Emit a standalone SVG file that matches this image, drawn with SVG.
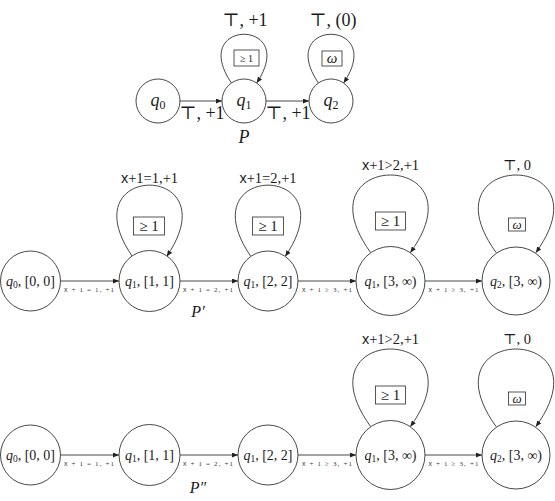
<svg xmlns="http://www.w3.org/2000/svg" width="555" height="501" viewBox="0 0 555 501">
<style>
  text { font-family: "Liberation Serif", "DejaVu Serif", serif; fill: #1a1a1a; text-anchor: middle; }
  .sf { font-family: "Liberation Sans", "DejaVu Sans", sans-serif; }
  .it { font-style: italic; }
  .node { fill: #fff; stroke: #333; stroke-width: 0.9; }
  .edge { fill: none; stroke: #333; stroke-width: 0.9; marker-end: url(#arr); }
  .box { fill: #fff; stroke: #444; stroke-width: 0.9; }
  .big { font-size: 18px; }
  .mid { font-size: 14px; }
  .lbl { font-size: 14.5px; }
  .tiny { font-size: 7px; fill: #3a3a3a; }
</style>
<defs>
  <marker id="arr" viewBox="0 0 6 5" refX="6" refY="2.5" markerWidth="6" markerHeight="5" markerUnits="userSpaceOnUse" orient="auto">
    <path d="M0,0 L6,2.5 L0,5 z" fill="#222"/>
  </marker>
</defs>

<!-- connectors -->
<g id="connectors">
  <!-- top: P -->
  <g id="e-p-q0-q1">
    <line class="edge" x1="180" y1="101" x2="222" y2="101"/>
    <text class="big" x="202" y="119">⊤, +1</text>
  </g>
  <g id="e-p-q1-q2">
    <line class="edge" x1="266" y1="101" x2="309" y2="101"/>
    <text class="big" x="288" y="119">⊤, +1</text>
  </g>
  <g id="e-p-q1-loop">
    <path class="edge" d="M231.4,83 C187.4,18 300.6,18 256.6,83"/>
    <text class="big" x="245" y="26">⊤, +1</text>
    <rect class="box" x="234" y="50" width="25" height="16"/>
    <text x="246.5" y="61.5" font-size="10">≥ 1</text>
  </g>
  <g id="e-p-q2-loop">
    <path class="edge" d="M318.4,83 C274.4,18 387.6,18 343.6,83"/>
    <text class="big" x="333" y="26">⊤, (0)</text>
    <rect class="box" x="322" y="51" width="20" height="15"/>
    <text class="it" x="332" y="62.5" font-size="15">ω</text>
  </g>

  <!-- middle: P' -->
  <g id="e-p1-a0-a1">
    <line class="edge" x1="61" y1="281" x2="119" y2="281"/>
    <text class="tiny" x="89" y="291.5" textLength="50" lengthAdjust="spacing"><tspan class="sf">x</tspan> + 1 = 1, +1</text>
  </g>
  <g id="e-p1-a1-a2">
    <line class="edge" x1="180" y1="281" x2="238" y2="281"/>
    <text class="tiny" x="208" y="291.5" textLength="50" lengthAdjust="spacing"><tspan class="sf">x</tspan> + 1 = 2, +1</text>
  </g>
  <g id="e-p1-a2-a3">
    <line class="edge" x1="298" y1="281" x2="356" y2="281"/>
    <text class="tiny" x="327" y="291.5" textLength="50" lengthAdjust="spacing"><tspan class="sf">x</tspan> + 1 ≥ 3, +1</text>
  </g>
  <g id="e-p1-a3-a4">
    <line class="edge" x1="425" y1="281" x2="482" y2="281"/>
    <text class="tiny" x="453.5" y="291.5" textLength="50" lengthAdjust="spacing"><tspan class="sf">x</tspan> + 1 ≥ 3, +1</text>
  </g>
  <g id="e-p1-a1-loop">
    <path class="edge" d="M132.3,256.4 C67.3,161.4 231.7,161.4 166.7,256.4"/>
    <text class="lbl" x="149.5" y="183"><tspan class="sf">x</tspan>+1=1,+1</text>
    <rect class="box" x="133.5" y="217" width="31" height="18"/>
    <text x="149" y="231" font-size="15">≥ 1</text>
  </g>
  <g id="e-p1-a2-loop">
    <path class="edge" d="M250.8,256.4 C185.8,161.4 350.2,161.4 285.2,256.4"/>
    <text class="lbl" x="268" y="183"><tspan class="sf">x</tspan>+1=2,+1</text>
    <rect class="box" x="252.5" y="217" width="31" height="18"/>
    <text x="268" y="231" font-size="15">≥ 1</text>
  </g>
  <g id="e-p1-a3-loop">
    <path class="edge" d="M370.7,252.7 C295.7,149.1 485.3,149.1 410.3,252.7"/>
    <text class="lbl" x="390.5" y="170"><tspan class="sf">x</tspan>+1&gt;2,+1</text>
    <rect class="box" x="375.5" y="212" width="30" height="18"/>
    <text x="390.5" y="226" font-size="15">≥ 1</text>
  </g>
  <g id="e-p1-a4-loop">
    <path class="edge" d="M496.2,252.7 C421.2,149.1 610.8,149.1 535.8,252.7"/>
    <text class="lbl" x="517" y="170">⊤, 0</text>
    <rect class="box" x="508.5" y="218" width="17" height="13"/>
    <text class="it" x="517" y="228.5" font-size="13">ω</text>
  </g>

  <!-- bottom: P'' -->
  <g id="e-p2-b0-b1">
    <line class="edge" x1="61" y1="455" x2="119" y2="455"/>
    <text class="tiny" x="89" y="465.5" textLength="50" lengthAdjust="spacing"><tspan class="sf">x</tspan> + 1 = 1, +1</text>
  </g>
  <g id="e-p2-b1-b2">
    <line class="edge" x1="180" y1="455" x2="238" y2="455"/>
    <text class="tiny" x="208" y="465.5" textLength="50" lengthAdjust="spacing"><tspan class="sf">x</tspan> + 1 = 2, +1</text>
  </g>
  <g id="e-p2-b2-b3">
    <line class="edge" x1="298" y1="455" x2="356" y2="455"/>
    <text class="tiny" x="327" y="465.5" textLength="50" lengthAdjust="spacing"><tspan class="sf">x</tspan> + 1 ≥ 3, +1</text>
  </g>
  <g id="e-p2-b3-b4">
    <line class="edge" x1="425" y1="455" x2="482" y2="455"/>
    <text class="tiny" x="453.5" y="465.5" textLength="50" lengthAdjust="spacing"><tspan class="sf">x</tspan> + 1 ≥ 3, +1</text>
  </g>
  <g id="e-p2-b3-loop">
    <path class="edge" d="M370.7,426.7 C295.7,323.1 485.3,323.1 410.3,426.7"/>
    <text class="lbl" x="390.5" y="344"><tspan class="sf">x</tspan>+1&gt;2,+1</text>
    <rect class="box" x="375.5" y="386" width="30" height="18"/>
    <text x="390.5" y="400" font-size="15">≥ 1</text>
  </g>
  <g id="e-p2-b4-loop">
    <path class="edge" d="M496.2,426.7 C421.2,323.1 610.8,323.1 535.8,426.7"/>
    <text class="lbl" x="517" y="344">⊤, 0</text>
    <rect class="box" x="508.5" y="392" width="17" height="13"/>
    <text class="it" x="517" y="402.5" font-size="13">ω</text>
  </g>
</g>

<!-- top nodes (P) -->
<g id="p-q0"><circle class="node" cx="158" cy="101" r="22"/><text class="big" x="158" y="106"><tspan class="it">q</tspan><tspan font-size="12" dy="3">0</tspan></text></g>
<g id="p-q1"><circle class="node" cx="244" cy="101" r="22"/><text class="big" x="244" y="106"><tspan class="it">q</tspan><tspan font-size="12" dy="3">1</tspan></text></g>
<g id="p-q2"><circle class="node" cx="331" cy="101" r="22"/><text class="big" x="331" y="106"><tspan class="it">q</tspan><tspan font-size="12" dy="3">2</tspan></text></g>
<g id="label-P"><text class="it" x="244" y="143" font-size="18">P</text></g>

<!-- middle nodes (P') -->
<g id="p1-a0"><circle class="node" cx="30.5" cy="281" r="30"/><text class="mid" x="30.5" y="285.5"><tspan class="it">q</tspan><tspan font-size="9.5" dy="2.5">0</tspan><tspan dy="-2.5">, [0, 0]</tspan></text></g>
<g id="p1-a1"><circle class="node" cx="149.5" cy="281" r="30.5"/><text class="mid" x="149.5" y="285.5"><tspan class="it">q</tspan><tspan font-size="9.5" dy="2.5">1</tspan><tspan dy="-2.5">, [1, 1]</tspan></text></g>
<g id="p1-a2"><circle class="node" cx="268" cy="281" r="30"/><text class="mid" x="268" y="285.5"><tspan class="it">q</tspan><tspan font-size="9.5" dy="2.5">1</tspan><tspan dy="-2.5">, [2, 2]</tspan></text></g>
<g id="p1-a3"><circle class="node" cx="390.5" cy="281" r="34.5"/><text class="mid" x="390.5" y="285.5"><tspan class="it">q</tspan><tspan font-size="9.5" dy="2.5">1</tspan><tspan dy="-2.5">, [3, ∞)</tspan></text></g>
<g id="p1-a4"><circle class="node" cx="516" cy="281" r="34"/><text class="mid" x="516" y="285.5"><tspan class="it">q</tspan><tspan font-size="9.5" dy="2.5">2</tspan><tspan dy="-2.5">, [3, ∞)</tspan></text></g>
<g id="label-P1"><text class="it" x="198" y="317" font-size="16">P′</text></g>

<!-- bottom nodes (P'') -->
<g id="p2-b0"><circle class="node" cx="30.5" cy="455" r="30"/><text class="mid" x="30.5" y="459.5"><tspan class="it">q</tspan><tspan font-size="9.5" dy="2.5">0</tspan><tspan dy="-2.5">, [0, 0]</tspan></text></g>
<g id="p2-b1"><circle class="node" cx="149.5" cy="455" r="30.5"/><text class="mid" x="149.5" y="459.5"><tspan class="it">q</tspan><tspan font-size="9.5" dy="2.5">1</tspan><tspan dy="-2.5">, [1, 1]</tspan></text></g>
<g id="p2-b2"><circle class="node" cx="268" cy="455" r="30"/><text class="mid" x="268" y="459.5"><tspan class="it">q</tspan><tspan font-size="9.5" dy="2.5">1</tspan><tspan dy="-2.5">, [2, 2]</tspan></text></g>
<g id="p2-b3"><circle class="node" cx="390.5" cy="455" r="34.5"/><text class="mid" x="390.5" y="459.5"><tspan class="it">q</tspan><tspan font-size="9.5" dy="2.5">1</tspan><tspan dy="-2.5">, [3, ∞)</tspan></text></g>
<g id="p2-b4"><circle class="node" cx="516" cy="455" r="34"/><text class="mid" x="516" y="459.5"><tspan class="it">q</tspan><tspan font-size="9.5" dy="2.5">2</tspan><tspan dy="-2.5">, [3, ∞)</tspan></text></g>
<g id="label-P2"><text class="it" x="198" y="493" font-size="16">P″</text></g>
</svg>
